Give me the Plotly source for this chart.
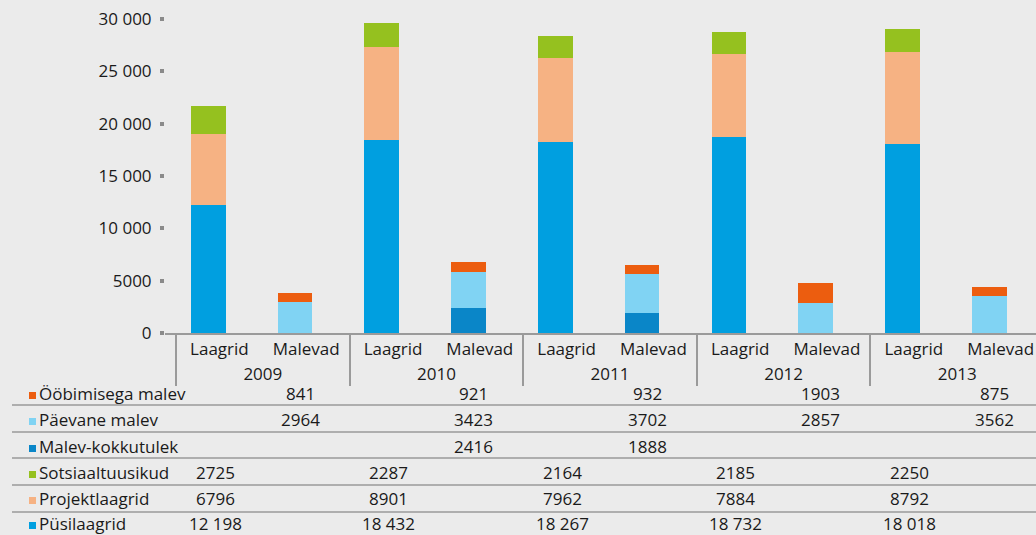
import plotly.graph_objects as go

# ---- data ----
years = ["2009", "2010", "2011", "2012", "2013"]
groups = ["Laagrid", "Malevad"]

pusilaagrid = [12198, 18432, 18267, 18732, 18018]
projektlaagrid = [6796, 8901, 7962, 7884, 8792]
sotsiaaltuusikud = [2725, 2287, 2164, 2185, 2250]
malev_kokkutulek = [None, 2416, 1888, None, None]
paevane_malev = [2964, 3423, 3702, 2857, 3562]
oobimisega_malev = [841, 921, 932, 1903, 875]

y_tickvals = [0, 5000, 10000, 15000, 20000, 25000, 30000]
y_ticktext = ["0", "5000", "10 000", "15 000", "20 000", "25 000", "30 000"]

# series: (name, color, group, values) in stacking order (bottom -> top)
series = [
    ("Püsilaagrid", "#009fe0", "Laagrid", pusilaagrid),
    ("Projektlaagrid", "#f6b283", "Laagrid", projektlaagrid),
    ("Sotsiaaltuusikud", "#95c11f", "Laagrid", sotsiaaltuusikud),
    ("Malev-kokkutulek", "#0a86c8", "Malevad", malev_kokkutulek),
    ("Päevane malev", "#80d3f3", "Malevad", paevane_malev),
    ("Ööbimisega malev", "#ec5d0f", "Malevad", oobimisega_malev),
]
# table row order (top -> bottom)
table_order = ["Ööbimisega malev", "Päevane malev", "Malev-kokkutulek",
               "Sotsiaaltuusikud", "Projektlaagrid", "Püsilaagrid"]

# ---- layout geometry (screen pixels; page margin removed below) ----
W, H = 1036, 535
L, R, T = 165, 0, 19
B = H - 333
PW, PH = W - L - R, H - T - B
FONT = "Open Sans"
FS = 17
TXT = "#1a1a1a"
GRAY = "#9a9a9a"


def px_x(p):
    return (p - L) / PW


def px_y(p):
    return (H - B - p) / PH


def fmt(v):
    s = f"{v:,}".replace(",", " ")
    return s if v >= 10000 else str(v)


x_years, x_groups = [], []
for yr in years:
    for g in groups:
        x_years.append(yr)
        x_groups.append(g)

fig = go.Figure()
for name, color, grp, vals in series:
    yv = []
    for i, yr in enumerate(years):
        for g in groups:
            yv.append(vals[i] if g == grp else None)
    fig.add_trace(go.Bar(
        x=[x_years, x_groups], y=yv, name=name,
        marker=dict(color=color, line=dict(width=0)),
        width=0.4, offset=-0.33, showlegend=False,
    ))

# ---- data table under the chart ----
row_text_y = [393, 419, 446, 472, 498, 523]
row_line_y = [405, 432, 458, 485, 512]
annotations = []
shapes = []
lookup = {s[0]: s for s in series}
for r, name in enumerate(table_order):
    _, color, grp, vals = lookup[name]
    yc = px_y(row_text_y[r])
    annotations.append(dict(
        xref="paper", yref="paper", x=px_x(37), y=yc, text=name,
        showarrow=False, xanchor="left", yanchor="middle",
        font=dict(family=FONT, size=FS, color=TXT)))
    shapes.append(dict(
        type="rect", xref="paper", yref="paper",
        x0=px_x(29), x1=px_x(36), y0=px_y(row_text_y[r] + 6), y1=px_y(row_text_y[r] - 1),
        fillcolor=color, line=dict(width=0), layer="above"))
    gi = groups.index(grp)
    for i, v in enumerate(vals):
        if v is None:
            continue
        idx = i * 2 + gi
        annotations.append(dict(
            xref="x", yref="paper", x=idx - (0.05 if gi == 0 else 0.07), y=yc,
            text=fmt(v), showarrow=False, xanchor="center", yanchor="middle",
            font=dict(family=FONT, size=FS, color=TXT)))

for ly in row_line_y:
    shapes.append(dict(
        type="line", xref="paper", yref="paper",
        x0=px_x(12), x1=1.0, y0=px_y(ly), y1=px_y(ly),
        line=dict(color=GRAY, width=1.5), layer="above"))

fig.update_layout(
    width=W, height=H,
    margin=dict(l=L, r=R, t=T, b=B, pad=0),
    barmode="stack",
    paper_bgcolor="#ebebeb", plot_bgcolor="#ebebeb",
    font=dict(family=FONT, size=FS, color=TXT),
    annotations=annotations, shapes=shapes,
    xaxis=dict(
        type="multicategory", range=[-0.627, 9.408],
        showline=True, linecolor=GRAY, linewidth=2,
        ticks="", showgrid=False, zeroline=False,
        showdividers=True, dividercolor=GRAY, dividerwidth=2,
        tickfont=dict(family=FONT, size=FS, color=TXT),
        ticklabeloverflow="allow",
    ),
    yaxis=dict(
        range=[0, 30000], tickvals=y_tickvals, ticktext=y_ticktext,
        ticks="outside", ticklen=4, tickwidth=4, tickcolor="#8a8a8a",
        ticklabelstandoff=5, ticklabeloverflow="allow",
        showline=False, showgrid=False, zeroline=False,
        tickfont=dict(family=FONT, size=FS, color=TXT),
    ),
)

fig.write_html(
    "out.html",
    config={"displayModeBar": False},
    post_script="document.body.style.margin='0';document.body.style.overflow='hidden';",
)
